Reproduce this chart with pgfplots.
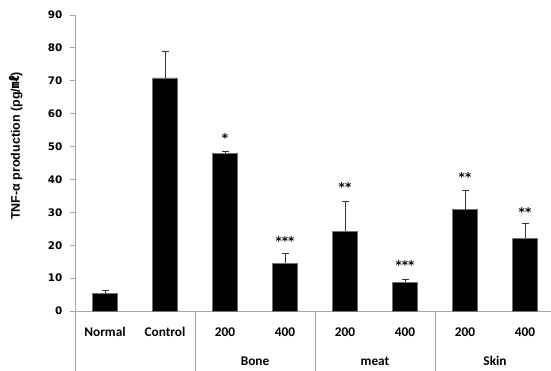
\documentclass[border=0pt]{standalone}
\usepackage{fontspec}
\setmainfont{Carlito}
\newfontfamily\dejavu{DejaVu Sans}
\newfontfamily\libsans{Liberation Sans}
\newfontfamily\cjk{Noto Sans CJK SC}
\usepackage{pgfplots}
\pgfplotsset{compat=1.18}
\begin{document}
\begin{tikzpicture}[x=1pt,y=1pt]
\useasboundingbox (0,0) rectangle (551,371);
\begin{axis}[
  at={(75pt,60pt)}, anchor=south west,
  scale only axis, width=476pt, height=296pt,
  xmin=-0.5, xmax=7.433, ymin=0, ymax=90,
  clip=false,
  axis x line=bottom, axis y line=left,
  axis line style={draw=black!35, -, line width=0.8pt},
  xtick={0,...,7},
  xticklabels={Normal,Control,200,400,200,400,200,400},
  x tick style={draw=none},
  ytick={0,10,...,90},
  y tick style={draw=black!35, line width=0.8pt},
  tick align=outside, major tick length=5pt,
  /pgf/number format/assume math mode=true,
  yticklabel style={font=\dejavu\bfseries\fontsize{10.4}{12}\selectfont, xshift=-4pt},
  xticklabel style={font=\bfseries\fontsize{13.3}{15}\selectfont, yshift=-8pt},
]
\addplot[ybar, bar width=25pt, fill=black, draw=black!55,
  error bars/.cd, y dir=plus, y explicit,
  error bar style={black!80, line width=0.8pt},
  error mark options={rotate=90, mark size=3.5pt, line width=0.8pt, black!80}]
  coordinates {
  (0,5.3) +- (0,1.0)
  (1,70.9) +- (0,8.1)
  (2,47.9) +- (0,0.5)
  (3,14.5) +- (0,3.1)
  (4,24.3) +- (0,9.1)
  (5,8.8) +- (0,0.7)
  (6,30.8) +- (0,5.9)
  (7,22.1) +- (0,4.5)
  };
\addplot[draw=none, nodes near coords, point meta=explicit symbolic,
  nodes near coords style={anchor=center, yshift=-2pt, font=\dejavu\bfseries\fontsize{12}{12}\selectfont, inner sep=0pt}]
  coordinates {
  (2,53.1) [*]
  (3,22.0) [***]
  (4,38.2) [**]
  (5,14.7) [***]
  (6,41.3) [**]
  (7,30.8) [**]
  };
\draw[black!35, line width=0.8pt] (axis cs:-0.5,0) -- ++(0pt,-60pt);
\draw[black!35, line width=0.8pt] (axis cs:1.5,0) -- ++(0pt,-60pt);
\draw[black!35, line width=0.8pt] (axis cs:3.5,0) -- ++(0pt,-60pt);
\draw[black!35, line width=0.8pt] (axis cs:5.5,0) -- ++(0pt,-60pt);
\draw[black!35, line width=0.8pt] (axis cs:-0.5,0) -- ++(-5pt,0pt);
\node[anchor=base, font=\bfseries\fontsize{13.3}{15}\selectfont] at ([yshift=-55pt]axis cs:2.5,0) {Bone};
\node[anchor=base, font=\bfseries\fontsize{13.3}{15}\selectfont] at ([yshift=-55pt]axis cs:4.5,0) {meat};
\node[anchor=base, font=\bfseries\fontsize{13.3}{15}\selectfont] at ([yshift=-55pt]axis cs:6.5,0) {Skin};
\end{axis}
\node[rotate=90, font=\libsans\bfseries\fontsize{12.5}{14}\selectfont] at (16,225) {TNF-α production (pg/{\cjk ㎖})};
\end{tikzpicture}
\end{document}
